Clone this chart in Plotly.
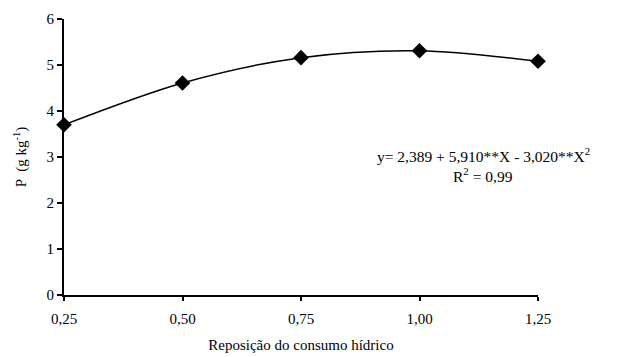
import plotly.graph_objects as go

# Water replacement levels and measured P content
reposicao = [0.25, 0.50, 0.75, 1.00, 1.25]
fosforo = [3.70, 4.61, 5.16, 5.31, 5.08]

x_ticks = [0.25, 0.50, 0.75, 1.00, 1.25]
x_tick_text = ["0,25", "0,50", "0,75", "1,00", "1,25"]
y_ticks = [0, 1, 2, 3, 4, 5, 6]

equacao = "y= 2,389 + 5,910**X - 3,020**X<sup>2</sup>"
r2 = "R<sup>2</sup> = 0,99"

serif = "Liberation Serif, Times New Roman, serif"

fig = go.Figure()
fig.add_trace(go.Scatter(
    x=reposicao, y=fosforo,
    mode="lines+markers",
    line=dict(color="black", width=1.5, shape="spline", smoothing=0.9),
    marker=dict(symbol="diamond", size=12, color="black"),
    cliponaxis=False,
    showlegend=False,
))

fig.add_annotation(x=1.135, y=3.04, xref="x", yref="y", text=equacao,
                   showarrow=False, font=dict(family=serif, size=15.5, color="black"))
fig.add_annotation(x=1.135, y=2.6, xref="x", yref="y", text=r2,
                   showarrow=False, font=dict(family=serif, size=15.5, color="black"))

fig.update_layout(
    width=618, height=357,
    margin=dict(l=64, r=80, t=19, b=62),
    paper_bgcolor="white", plot_bgcolor="white",
    font=dict(family=serif, size=15, color="black"),
    xaxis=dict(
        range=[0.25, 1.25], tickvals=x_ticks, ticktext=x_tick_text,
        showline=True, linecolor="black", linewidth=2,
        ticks="outside", ticklen=4, tickwidth=2, tickcolor="black",
        ticklabelstandoff=5, automargin=False,
        showgrid=False, zeroline=False,
        title=dict(text="Reposição do consumo hídrico", standoff=13,
                   font=dict(family=serif, size=15)),
        tickfont=dict(family=serif, size=15),
    ),
    yaxis=dict(
        range=[0, 6], tickvals=y_ticks,
        showline=True, linecolor="black", linewidth=2,
        ticks="outside", ticklen=5, tickwidth=2, tickcolor="black",
        automargin=False,
        showgrid=False, zeroline=False,
        title=dict(text="P  (g kg<sup>-1</sup>)", standoff=16,
                   font=dict(family=serif, size=15)),
        tickfont=dict(family=serif, size=15),
    ),
)

fig.write_html("out.html")
